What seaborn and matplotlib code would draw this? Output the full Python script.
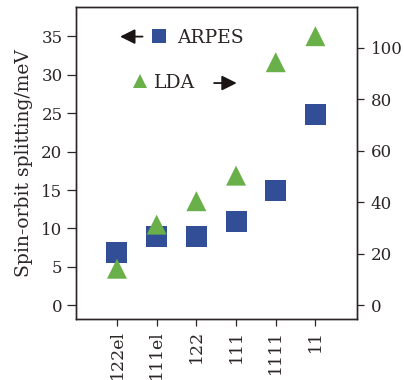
import matplotlib
matplotlib.use("Agg")
import matplotlib.pyplot as plt
import seaborn as sns
import pandas as pd
from matplotlib.lines import Line2D

categories = ["122el", "111el", "122", "111", "1111", "11"]
arpes = [6.9, 9.0, 9.0, 10.95, 15.0, 24.9]
lda = [14.2, 31.3, 40.4, 50.3, 94.3, 104.4]
left_ticks = [0, 5, 10, 15, 20, 25, 30, 35]
right_ticks = [0, 20, 40, 60, 80, 100]

blue = "#314e97"
green = "#69b04a"
ink = "#2b2525"

sns.set_style("ticks")
plt.rcParams["font.family"] = ["DejaVu Serif"]
plt.rcParams["axes.edgecolor"] = ink
plt.rcParams["xtick.color"] = ink
plt.rcParams["ytick.color"] = ink
plt.rcParams["text.color"] = ink
plt.rcParams["axes.labelcolor"] = ink

df = pd.DataFrame({"cat": categories, "ARPES": arpes, "LDA": lda})

fig = plt.figure(figsize=(4.04, 3.80), dpi=100)
ax = fig.add_axes([75.7 / 404, 1 - 319 / 380, 281 / 404, 311.7 / 380])
ax2 = ax.twinx()

sns.scatterplot(data=df, x="cat", y="ARPES", marker="s", s=228, color=blue,
                edgecolor="none", linewidth=0, ax=ax, zorder=3)
sns.scatterplot(data=df, x="cat", y="LDA", marker="^", s=207, color=green,
                edgecolor="none", linewidth=0, ax=ax2, zorder=4)

ax.set_xlim(-1.04, 6.04)
ax.set_ylim(-1.79, 38.8)
ax2.set_ylim(-5.3, 115.6)
ax.set_yticks(left_ticks)
ax2.set_yticks(right_ticks)
ax.set_xticks(range(len(categories)))
ax.set_xticklabels(categories, rotation=90)

ax.set_xlabel("")
ax2.set_xlabel("")
ax2.set_ylabel("")
ax.set_ylabel("Spin-orbit splitting/meV", fontsize=13.5, labelpad=6)

ax.tick_params(axis="y", labelsize=12, length=6.5, width=0.9, pad=3)
ax.tick_params(axis="x", labelsize=12.5, length=5, width=0.9, pad=3)
ax2.tick_params(axis="y", labelsize=12, length=5, width=0.9, pad=5)
for a in (ax, ax2):
    for sp in a.spines.values():
        sp.set_linewidth(1.0)
        sp.set_color(ink)

# legends
h1 = Line2D([], [], marker="s", linestyle="none", markersize=10, color=blue, markeredgewidth=0)
h2 = Line2D([], [], marker="^", linestyle="none", markersize=10, color=green, markeredgewidth=0)
fs = 13.5
hl = 16.7 / (fs * 100 / 72)
leg1 = ax2.legend([h1], ["ARPES"], loc="center left", bbox_to_anchor=(0.266, 0.9015),
                  frameon=False, fontsize=fs, handlelength=hl, handletextpad=9.7 / (fs * 100 / 72),
                  borderpad=0, borderaxespad=0)
ax2.add_artist(leg1)
leg2 = ax2.legend([h2], ["LDA"], loc="center left", bbox_to_anchor=(0.199, 0.757),
                  frameon=False, fontsize=fs, handlelength=hl, handletextpad=5.6 / (fs * 100 / 72),
                  borderpad=0, borderaxespad=0)

arrow_style = dict(arrowstyle="-|>,head_length=0.6,head_width=0.3", lw=1.3,
                   color="#1a1414", mutation_scale=15, shrinkA=0, shrinkB=0)
ax2.annotate("", xy=(0.158, 0.906), xytext=(0.238, 0.906), xycoords="axes fraction",
             textcoords="axes fraction", arrowprops=arrow_style)
ax2.annotate("", xy=(0.573, 0.757), xytext=(0.4925, 0.757), xycoords="axes fraction",
             textcoords="axes fraction", arrowprops=arrow_style)

fig.savefig("out.png", dpi=100)
